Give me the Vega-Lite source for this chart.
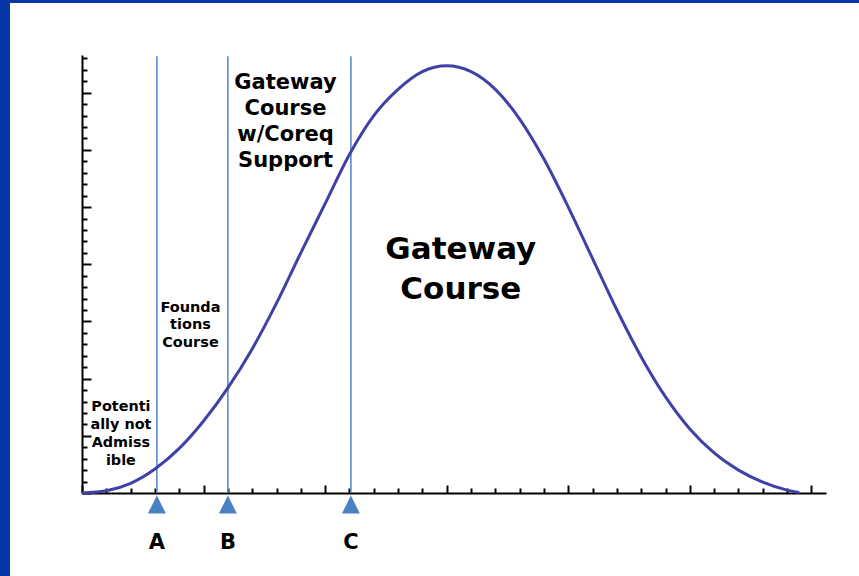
{
  "$schema": "https://vega.github.io/schema/vega-lite/v6.json",
  "width": 849,
  "height": 573,
  "autosize": "none",
  "padding": {"left": 10, "top": 3, "right": 0, "bottom": 0},
  "background": "#0637a9",
  "config": {
    "view": {"fill": "white", "stroke": null},
    "text": {"font": "DejaVu Sans", "fontWeight": "bold", "color": "black"}
  },
  "datasets": {
    "curve": [
      {"x": 0, "y": 0}, {"x": 1, "y": 0.2}, {"x": 2, "y": 0.85}, {"x": 3, "y": 2.1},
      {"x": 4, "y": 3.9}, {"x": 5, "y": 6.3}, {"x": 6, "y": 9.2}, {"x": 7, "y": 12.6},
      {"x": 8, "y": 16.6}, {"x": 9, "y": 21.0}, {"x": 10, "y": 25.3}, {"x": 11, "y": 29.6},
      {"x": 12, "y": 33.0}, {"x": 13, "y": 35.3}, {"x": 14, "y": 36.85}, {"x": 15, "y": 37.35},
      {"x": 16, "y": 36.85}, {"x": 17, "y": 35.3}, {"x": 18, "y": 32.7}, {"x": 19, "y": 29.2},
      {"x": 20, "y": 25.0}, {"x": 21, "y": 20.5}, {"x": 22, "y": 16.0}, {"x": 23, "y": 11.9},
      {"x": 24, "y": 8.4}, {"x": 25, "y": 5.6}, {"x": 26, "y": 3.5}, {"x": 27, "y": 2.0},
      {"x": 28, "y": 0.95}, {"x": 29, "y": 0.25}, {"x": 29.5, "y": 0.05}
    ],
    "cutoffs": [
      {"x": 3.08, "y": 0, "y2": 38.2, "name": "A"},
      {"x": 6.0, "y": 0, "y2": 38.2, "name": "B"},
      {"x": 11.06, "y": 0, "y2": 38.2, "name": "C"}
    ]
  },
  "encoding": {
    "x": {
      "field": "x", "type": "quantitative",
      "scale": {"domain": [0, 30.6], "range": [72, 816], "nice": false, "zero": false},
      "axis": {
        "orient": "bottom", "offset": -83, "values": [0,1,2,3,4,5,6,7,8,9,10,11,12,13,14,15,16,17,18,19,20,21,22,23,24,25,26,27,28,29,30],
        "labels": false, "grid": false, "title": null,
        "domainColor": "black", "domainWidth": 2,
        "tickColor": "black", "tickWidth": 2,
        "tickSize": {"condition": {"test": "datum.value % 5 === 0", "value": -8}, "value": -5}
      }
    },
    "y": {
      "field": "y", "type": "quantitative",
      "scale": {"domain": [0, 38.3], "range": [490, 52], "nice": false, "zero": false},
      "axis": {
        "orient": "left", "offset": -72, "values": [0,1,2,3,4,5,6,7,8,9,10,11,12,13,14,15,16,17,18,19,20,21,22,23,24,25,26,27,28,29,30,31,32,33,34,35,36,37,38],
        "labels": false, "grid": false, "title": null,
        "domainColor": "black", "domainWidth": 2,
        "tickColor": "black", "tickWidth": 2,
        "tickSize": {"condition": {"test": "datum.value % 5 === 0", "value": -9}, "value": -5}
      }
    }
  },
  "layer": [
    {
      "data": {"name": "cutoffs"},
      "mark": {"type": "rule", "color": "#5a8cd0", "strokeWidth": 1.6},
      "encoding": {"y2": {"field": "y2"}}
    },
    {
      "data": {"name": "curve"},
      "mark": {"type": "line", "color": "#4040a8", "strokeWidth": 3, "interpolate": "monotone"}
    },
    {
      "data": {"name": "cutoffs"},
      "mark": {"type": "point", "shape": "M-1,1L1,1L0,-1Z", "size": 324, "filled": true, "opacity": 1, "color": "#4a80c4", "yOffset": 11.5},
      "encoding": {"y": {"datum": 0}}
    },
    {
      "data": {"name": "cutoffs"},
      "mark": {"type": "text", "fontSize": 21, "baseline": "middle", "align": "center", "yOffset": 50},
      "encoding": {"y": {"datum": 0}, "text": {"field": "name"}}
    },
    {
      "data": {"values": [{"x": 1.6, "y": 7.55, "t": "Potenti\nally not\nAdmiss\nible"}]},
      "mark": {"type": "text", "fontSize": 14.4, "lineHeight": 18, "lineBreak": "\n", "baseline": "middle", "align": "center"},
      "encoding": {"text": {"field": "t"}}
    },
    {
      "data": {"values": [{"x": 4.46, "y": 16.18, "t": "Founda\ntions\nCourse"}]},
      "mark": {"type": "text", "fontSize": 14.5, "lineHeight": 17.5, "lineBreak": "\n", "baseline": "middle", "align": "center"},
      "encoding": {"text": {"field": "t"}}
    },
    {
      "data": {"values": [{"x": 8.37, "y": 35.85, "t": "Gateway\nCourse\nw/Coreq\nSupport"}]},
      "mark": {"type": "text", "fontSize": 21, "lineHeight": 26, "lineBreak": "\n", "baseline": "middle", "align": "center"},
      "encoding": {"text": {"field": "t"}}
    },
    {
      "data": {"values": [{"x": 15.58, "y": 21.25, "t": "Gateway\nCourse"}]},
      "mark": {"type": "text", "fontSize": 31, "lineHeight": 40, "lineBreak": "\n", "baseline": "middle", "align": "center"},
      "encoding": {"text": {"field": "t"}}
    }
  ]
}
